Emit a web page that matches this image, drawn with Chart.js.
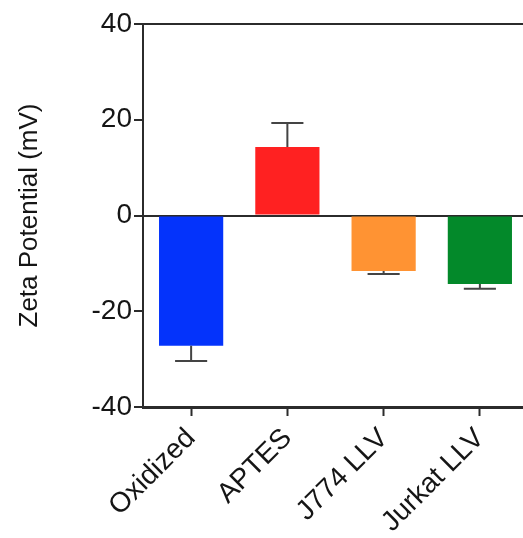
<!DOCTYPE html>
<html>
<head>
<meta charset="utf-8">
<script src="https://cdn.jsdelivr.net/npm/chart.js@4"></script>
<style>
  html, body { margin: 0; padding: 0; background: #fff; overflow: hidden; }
  #wrap { width: 523px; height: 538px; overflow: hidden; }
</style>
</head>
<body>
<div id="wrap"><canvas id="myChart" width="530" height="538"></canvas></div>
<script>
var categories = ['Oxidized', 'APTES', 'J774 LLV', 'Jurkat LLV'];
var zetaValues = [-27.2, 14.3, -11.6, -14.3];
var zetaErrors = [3.2, 5.0, 0.6, 1.0];
var barColors = ['#0433fb', '#ff2121', '#ff9333', '#03892a'];
var yTicks = [-40, -20, 0, 20, 40];

var axisColor = '#2b2b2b';
var textColor = '#151515';
var fontFamily = '"Liberation Sans", Arial, sans-serif';

// one-sided error bars, drawn through the y scale
var errorBars = {
    id: 'errorBars',
    afterDatasetsDraw: function(chart) {
        var ctx = chart.ctx;
        var y = chart.scales.y;
        var meta = chart.getDatasetMeta(0);
        ctx.save();
        ctx.strokeStyle = '#444';
        ctx.lineWidth = 2;
        meta.data.forEach(function(bar, i) {
            var v = zetaValues[i];
            var end = v < 0 ? v - zetaErrors[i] : v + zetaErrors[i];
            var py0 = y.getPixelForValue(v);
            var py1 = y.getPixelForValue(end);
            var half = bar.width / 4;
            ctx.beginPath();
            ctx.moveTo(bar.x, py0);
            ctx.lineTo(bar.x, py1);
            ctx.moveTo(bar.x - half, py1);
            ctx.lineTo(bar.x + half, py1);
            ctx.stroke();
        });
        ctx.restore();
    }
};

var ctx = document.getElementById('myChart').getContext('2d');
var myChart = new Chart(ctx, {
    type: 'bar',
    data: {
        labels: categories,
        datasets: [{
            data: zetaValues,
            backgroundColor: barColors,
            borderWidth: 0,
            barPercentage: 0.667,
            categoryPercentage: 1.0
        }]
    },
    plugins: [errorBars],
    options: {
        responsive: false,
        animation: false,
        layout: { padding: { top: 24, right: 2, left: 14, bottom: 0 } },
        plugins: {
            legend: { display: false },
            tooltip: { enabled: false }
        },
        scales: {
            x: {
                border: { display: true, color: axisColor, width: 3 },
                grid: {
                    offset: false,
                    drawOnChartArea: false,
                    color: 'rgba(0,0,0,0)',
                    tickColor: axisColor,
                    tickLength: 9,
                    tickWidth: 2
                },
                ticks: {
                    color: textColor,
                    font: { family: fontFamily, size: 28 },
                    minRotation: 45,
                    maxRotation: 45,
                    padding: 6
                },
                afterFit: function(scale) { scale.height = 131; }
            },
            y: {
                min: -40,
                max: 40,
                afterBuildTicks: function(scale) {
                    scale.ticks = yTicks.map(function(v) { return { value: v }; });
                },
                border: { display: true, color: axisColor, width: 2 },
                grid: {
                    color: function(c) {
                        return (c.tick && (c.tick.value === 0 || c.tick.value === 40)) ? axisColor : 'rgba(0,0,0,0)';
                    },
                    lineWidth: 2,
                    tickColor: axisColor,
                    tickLength: 9,
                    tickWidth: 2
                },
                ticks: {
                    color: textColor,
                    font: { family: fontFamily, size: 28 },
                    padding: 2
                },
                title: {
                    display: true,
                    text: 'Zeta Potential (mV)',
                    color: textColor,
                    font: { family: fontFamily, size: 26 },
                    padding: { top: 0, bottom: 4 }
                },
                afterFit: function(scale) { scale.width = 129; }
            }
        }
    }
});
</script>
</body>
</html>
